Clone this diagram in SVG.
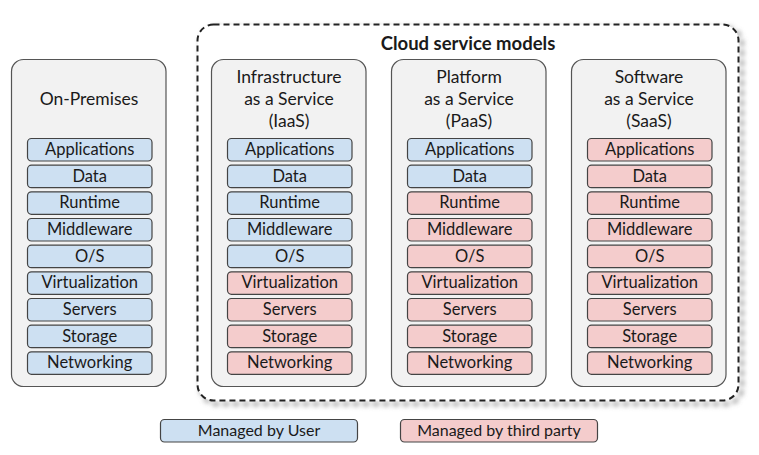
<svg xmlns="http://www.w3.org/2000/svg" width="759" height="455" viewBox="0 0 759 455">
<defs>
<style>
text{font-family:Lato,"Liberation Sans",sans-serif;font-size:16.5px;fill:#1a1a1a;text-anchor:middle}
.h{font-size:17.5px}
.lg{font-size:16px}
.col{fill:#f2f2f2;stroke:#555;stroke-width:1.2}
.u{fill:#cde0f2;stroke:#444;stroke-width:1.2}
.t{fill:#f4cccc;stroke:#444;stroke-width:1.2}
.title{font-weight:bold;font-size:18.5px}
</style>
<filter id="sh" x="-10%" y="-10%" width="130%" height="130%">
<feGaussianBlur stdDeviation="2.5"/>
</filter>
</defs>
<g id="cloud">
<rect x="201" y="28" width="541" height="376" rx="16" fill="none" stroke="#777" stroke-width="3" stroke-dasharray="6 4" filter="url(#sh)"/>
<rect x="197.5" y="24.5" width="541" height="376" rx="16" fill="#fff" stroke="#222" stroke-width="2" stroke-dasharray="6 4"/>
<text class="title" x="468" y="50">Cloud service models</text>
</g>
<g id="onprem">
<rect class="col" x="11.5" y="59.5" width="154.5" height="327" rx="12"/>
<text class="h" x="89" y="105">On-Premises</text>
<rect class="u" x="27.5" y="138.5" width="124.5" height="22.5" rx="4"/><text x="89.7" y="155">Applications</text>
<rect class="u" x="27.5" y="165.2" width="124.5" height="22.5" rx="4"/><text x="89.7" y="181.7">Data</text>
<rect class="u" x="27.5" y="191.8" width="124.5" height="22.5" rx="4"/><text x="89.7" y="208.3">Runtime</text>
<rect class="u" x="27.5" y="218.5" width="124.5" height="22.5" rx="4"/><text x="89.7" y="235">Middleware</text>
<rect class="u" x="27.5" y="245.2" width="124.5" height="22.5" rx="4"/><text x="89.7" y="261.7">O/S</text>
<rect class="u" x="27.5" y="271.8" width="124.5" height="22.5" rx="4"/><text x="89.7" y="288.3">Virtualization</text>
<rect class="u" x="27.5" y="298.5" width="124.5" height="22.5" rx="4"/><text x="89.7" y="315">Servers</text>
<rect class="u" x="27.5" y="325.2" width="124.5" height="22.5" rx="4"/><text x="89.7" y="341.7">Storage</text>
<rect class="u" x="27.5" y="351.8" width="124.5" height="22.5" rx="4"/><text x="89.7" y="368.3">Networking</text>
</g>
<g id="iaas">
<rect class="col" x="211.5" y="59.5" width="154.5" height="327" rx="12"/>
<text class="h" x="289" y="83">Infrastructure</text>
<text class="h" x="289" y="105">as a Service</text>
<text class="h" x="289" y="127">(IaaS)</text>
<rect class="u" x="227.5" y="138.5" width="124.5" height="22.5" rx="4"/><text x="289.7" y="155">Applications</text>
<rect class="u" x="227.5" y="165.2" width="124.5" height="22.5" rx="4"/><text x="289.7" y="181.7">Data</text>
<rect class="u" x="227.5" y="191.8" width="124.5" height="22.5" rx="4"/><text x="289.7" y="208.3">Runtime</text>
<rect class="u" x="227.5" y="218.5" width="124.5" height="22.5" rx="4"/><text x="289.7" y="235">Middleware</text>
<rect class="u" x="227.5" y="245.2" width="124.5" height="22.5" rx="4"/><text x="289.7" y="261.7">O/S</text>
<rect class="t" x="227.5" y="271.8" width="124.5" height="22.5" rx="4"/><text x="289.7" y="288.3">Virtualization</text>
<rect class="t" x="227.5" y="298.5" width="124.5" height="22.5" rx="4"/><text x="289.7" y="315">Servers</text>
<rect class="t" x="227.5" y="325.2" width="124.5" height="22.5" rx="4"/><text x="289.7" y="341.7">Storage</text>
<rect class="t" x="227.5" y="351.8" width="124.5" height="22.5" rx="4"/><text x="289.7" y="368.3">Networking</text>
</g>
<g id="paas">
<rect class="col" x="391.5" y="59.5" width="154.5" height="327" rx="12"/>
<text class="h" x="469" y="83">Platform</text>
<text class="h" x="469" y="105">as a Service</text>
<text class="h" x="469" y="127">(PaaS)</text>
<rect class="u" x="407.5" y="138.5" width="124.5" height="22.5" rx="4"/><text x="469.7" y="155">Applications</text>
<rect class="u" x="407.5" y="165.2" width="124.5" height="22.5" rx="4"/><text x="469.7" y="181.7">Data</text>
<rect class="t" x="407.5" y="191.8" width="124.5" height="22.5" rx="4"/><text x="469.7" y="208.3">Runtime</text>
<rect class="t" x="407.5" y="218.5" width="124.5" height="22.5" rx="4"/><text x="469.7" y="235">Middleware</text>
<rect class="t" x="407.5" y="245.2" width="124.5" height="22.5" rx="4"/><text x="469.7" y="261.7">O/S</text>
<rect class="t" x="407.5" y="271.8" width="124.5" height="22.5" rx="4"/><text x="469.7" y="288.3">Virtualization</text>
<rect class="t" x="407.5" y="298.5" width="124.5" height="22.5" rx="4"/><text x="469.7" y="315">Servers</text>
<rect class="t" x="407.5" y="325.2" width="124.5" height="22.5" rx="4"/><text x="469.7" y="341.7">Storage</text>
<rect class="t" x="407.5" y="351.8" width="124.5" height="22.5" rx="4"/><text x="469.7" y="368.3">Networking</text>
</g>
<g id="saas">
<rect class="col" x="571.5" y="59.5" width="154.5" height="327" rx="12"/>
<text class="h" x="649" y="83">Software</text>
<text class="h" x="649" y="105">as a Service</text>
<text class="h" x="649" y="127">(SaaS)</text>
<rect class="t" x="587.5" y="138.5" width="124.5" height="22.5" rx="4"/><text x="649.7" y="155">Applications</text>
<rect class="t" x="587.5" y="165.2" width="124.5" height="22.5" rx="4"/><text x="649.7" y="181.7">Data</text>
<rect class="t" x="587.5" y="191.8" width="124.5" height="22.5" rx="4"/><text x="649.7" y="208.3">Runtime</text>
<rect class="t" x="587.5" y="218.5" width="124.5" height="22.5" rx="4"/><text x="649.7" y="235">Middleware</text>
<rect class="t" x="587.5" y="245.2" width="124.5" height="22.5" rx="4"/><text x="649.7" y="261.7">O/S</text>
<rect class="t" x="587.5" y="271.8" width="124.5" height="22.5" rx="4"/><text x="649.7" y="288.3">Virtualization</text>
<rect class="t" x="587.5" y="298.5" width="124.5" height="22.5" rx="4"/><text x="649.7" y="315">Servers</text>
<rect class="t" x="587.5" y="325.2" width="124.5" height="22.5" rx="4"/><text x="649.7" y="341.7">Storage</text>
<rect class="t" x="587.5" y="351.8" width="124.5" height="22.5" rx="4"/><text x="649.7" y="368.3">Networking</text>
</g>
<g id="legend">
<rect class="u" x="160.5" y="419.5" width="197" height="22.5" rx="4"/><text class="lg" x="259" y="436">Managed by User</text>
<rect class="t" x="400.5" y="419.5" width="197" height="22.5" rx="4"/><text class="lg" x="499" y="436">Managed by third party</text>
</g>
</svg>
